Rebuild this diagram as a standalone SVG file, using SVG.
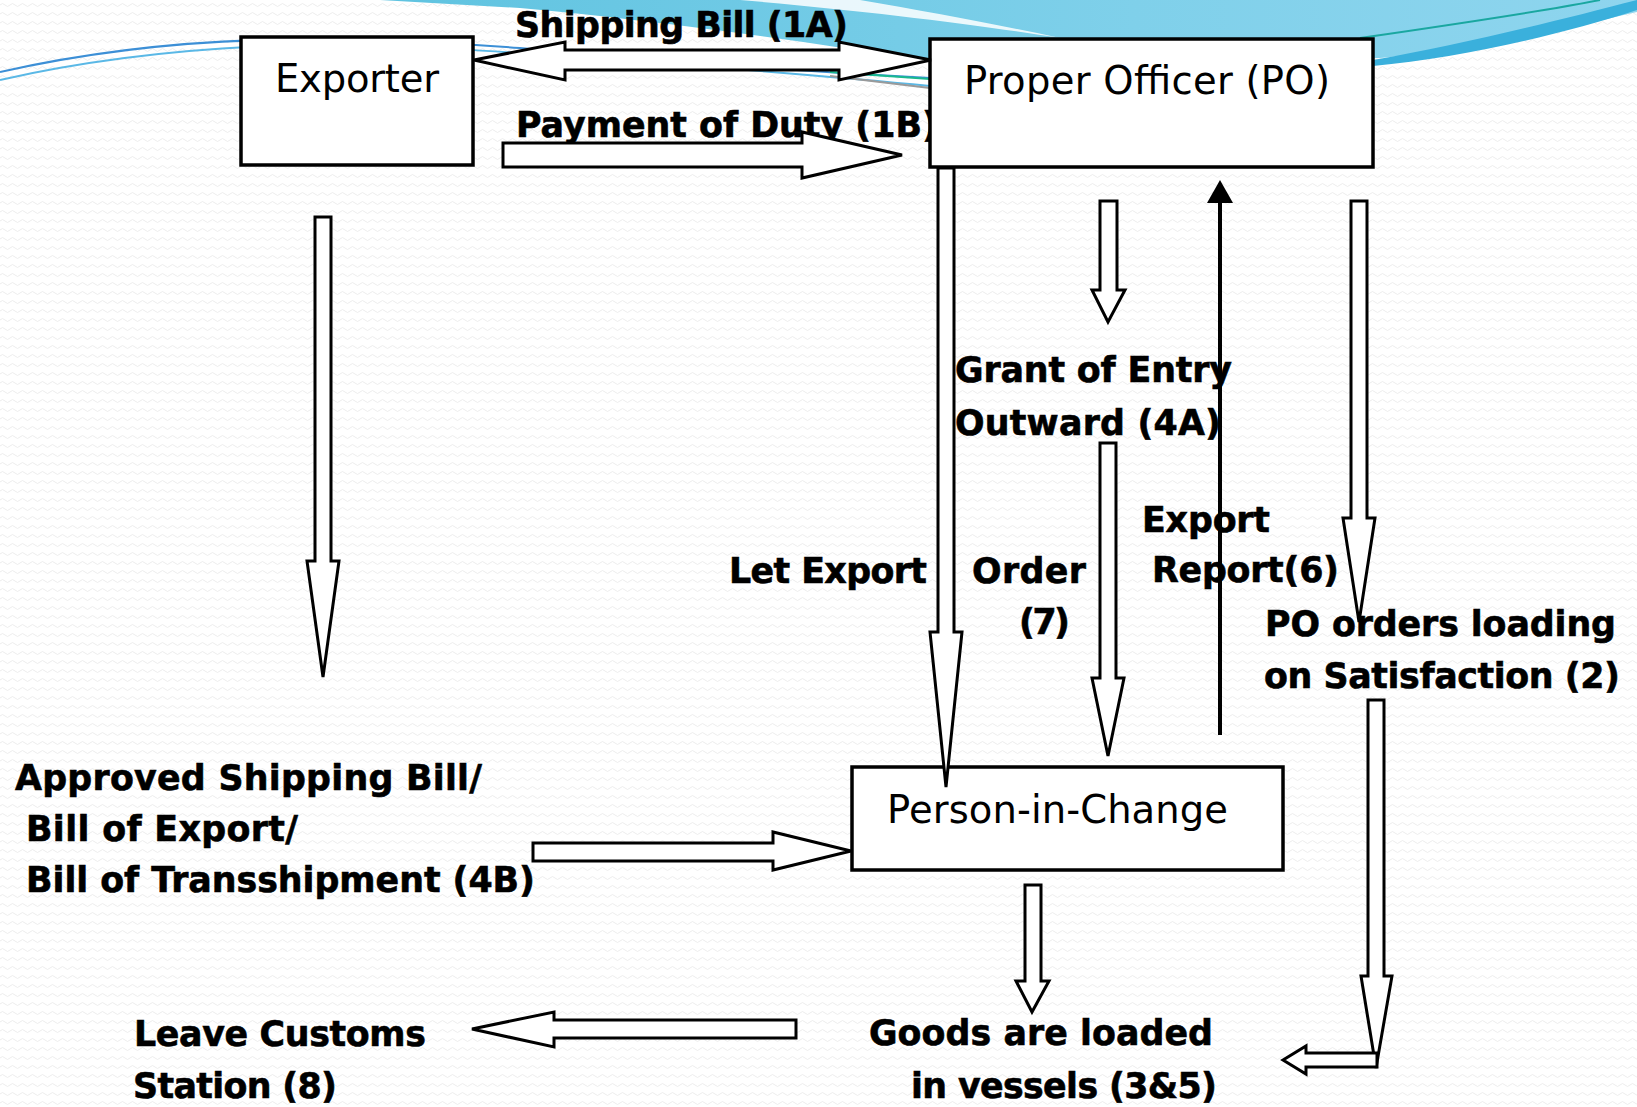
<svg xmlns="http://www.w3.org/2000/svg" width="1637" height="1107" viewBox="0 0 1637 1107">
<defs>
<pattern id="wave" width="10" height="9" patternUnits="userSpaceOnUse">
<path d="M0,5 Q2.5,2 5,5 T10,5" fill="none" stroke="#ececec" stroke-width="1"/>
</pattern>
<linearGradient id="sky" x1="0" y1="0" x2="1" y2="0">
<stop offset="0" stop-color="#5fc3e0"/>
<stop offset="0.6" stop-color="#7fd0ea"/>
<stop offset="1" stop-color="#8fd5ee"/>
</linearGradient>
<style>
.box{fill:#fff;stroke:#000;stroke-width:3.5}
.blk{fill:#fff;stroke:#000;stroke-width:3;stroke-linejoin:miter}
.nt{font-family:"DejaVu Sans",sans-serif;font-size:38.5px;fill:#000}
.lb{font-family:"DejaVu Sans",sans-serif;font-weight:bold;font-size:34.8px;fill:#000;stroke:#000;stroke-width:0.6}
</style>
</defs>
<rect width="1637" height="1107" fill="#fff"/>
<rect width="1637" height="1107" fill="url(#wave)"/>
<g id="decoration">
<path d="M380,0 L1637,0 L1637,12 C1560,30 1470,50 1380,58 L930,62 C800,40 650,20 520,8 Z" fill="url(#sky)"/>
<path d="M740,0 L860,0 C930,12 1000,25 1060,38 C980,25 860,10 740,0 Z" fill="#ffffff" opacity="0.85"/>
<path d="M1373,60 C1460,45 1560,20 1637,0 L1637,10 C1560,35 1460,58 1373,66 Z" fill="#3ab0dc"/>
<path d="M1360,38 C1450,25 1560,8 1600,0" fill="none" stroke="#1aa7a0" stroke-width="2"/>
<path d="M0,72 C80,54 160,43 260,40 C360,37 420,41 520,48 C650,60 780,70 930,78" fill="none" stroke="#3c8fd6" stroke-width="2"/>
<path d="M0,80 C80,62 170,50 270,46 C380,43 450,48 560,56 C700,66 820,75 930,86" fill="none" stroke="#5ab8e6" stroke-width="2"/>
<path d="M830,72 L930,79" fill="none" stroke="#19b98f" stroke-width="2"/>
<path d="M830,76 L930,88" fill="none" stroke="#9a9a9a" stroke-width="2"/>
</g>
<g id="labels">
<text class="lb" x="515" y="37" textLength="333">Shipping Bill (1A)</text>
<text class="lb" x="516" y="137">Payment of Duty (1B)</text>
</g>
<g id="node-exporter">
<rect class="box" x="241" y="37" width="232" height="128"/>
<text class="nt" x="275" y="92" textLength="164">Exporter</text>
</g>
<g id="node-po">
<rect class="box" x="930" y="39" width="443" height="128"/>
<text class="nt" x="964" y="94" textLength="366">Proper Officer (PO)</text>
</g>
<g id="node-pic">
<rect class="box" x="852" y="767" width="431" height="103"/>
<text class="nt" x="887" y="823" textLength="341">Person-in-Change</text>
</g>
<g id="labels2">
<text class="lb" x="955" y="382" textLength="277">Grant of Entry</text>
<text class="lb" x="955" y="435" textLength="266">Outward (4A)</text>
<text class="lb" x="729" y="583" textLength="198">Let Export</text>
<text class="lb" x="972" y="583" textLength="114">Order</text>
<text class="lb" x="1019" y="634" textLength="51">(7)</text>
<text class="lb" x="1142" y="532" textLength="128">Export</text>
<text class="lb" x="1152" y="582" textLength="187">Report(6)</text>
<text class="lb" x="1265" y="636" textLength="351">PO orders loading</text>
<text class="lb" x="1264" y="688" textLength="356">on Satisfaction (2)</text>
<text class="lb" x="15" y="790" textLength="467">Approved Shipping Bill/</text>
<text class="lb" x="26" y="841" textLength="272">Bill of Export/</text>
<text class="lb" x="26" y="892" textLength="509">Bill of Transshipment (4B)</text>
<text class="lb" x="134" y="1046" textLength="292">Leave Customs</text>
<text class="lb" x="133" y="1098" textLength="204">Station (8)</text>
<text class="lb" x="869" y="1045" textLength="344">Goods are loaded</text>
<text class="lb" x="911" y="1098" textLength="306">in vessels (3&amp;5)</text>
</g>
<g id="connectors">
<polygon class="blk" points="474,60 565,42 565,50 839,50 839,42 931,60 839,80 839,70 565,70 565,80"/>
<polygon class="blk" points="503,143 802,143 802,132 902,155 802,178 802,167 503,167"/>
<polygon class="blk" points="315,217 331,217 331,561 339,561 323,677 307,561 315,561"/>
<polygon class="blk" points="938,168 954,168 954,632 962,632 946,787 930,632 938,632"/>
<polygon class="blk" points="1100,201 1117,201 1117,290 1125,290 1108,322 1092,290 1100,290"/>
<polygon class="blk" points="1100,443 1116,443 1116,678 1124,678 1108,756 1092,678 1100,678"/>
<line x1="1220" y1="735" x2="1220" y2="198" stroke="#000" stroke-width="4"/>
<polygon points="1220,180 1233,203 1207,203" fill="#000"/>
<polygon class="blk" points="1351,201 1367,201 1367,518 1375,518 1359,622 1343,518 1351,518"/>
<polygon class="blk" points="1368,700 1384,700 1384,976 1392,976 1376,1068 1361,976 1368,976"/>
<polygon class="blk" points="1283,1060 1306,1046 1306,1053 1377,1053 1377,1067 1306,1067 1306,1074"/>
<polygon class="blk" points="1025,885 1041,885 1041,981 1049,981 1032,1012 1016,981 1025,981"/>
<polygon class="blk" points="533,843 773,843 773,832 851,851 773,870 773,861 533,861"/>
<polygon class="blk" points="472,1029 554,1012 554,1020 796,1020 796,1038 554,1038 554,1047"/>
</g>
</svg>
